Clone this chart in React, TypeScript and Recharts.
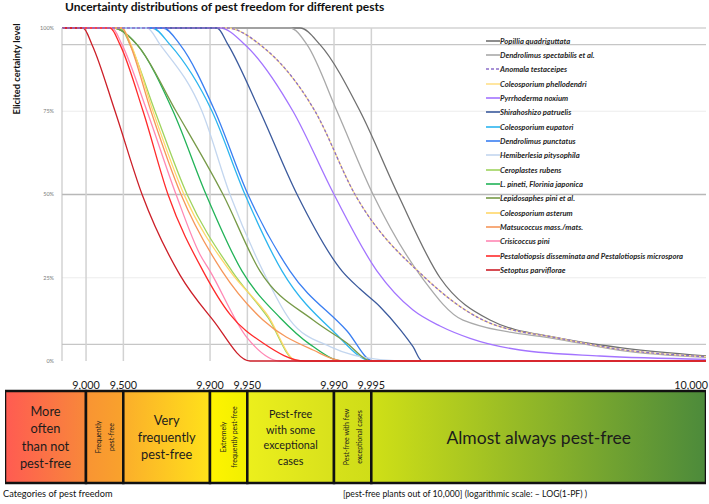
import React from 'react';
import { ComposedChart, BarChart, Bar, Line, XAxis, YAxis, ReferenceLine, Legend } from 'recharts';

const FONT = 'Lato, "Open Sans", sans-serif';

// x = -LOG10(1-PF), y = elicited certainty level (%)
const popillia = [[0.806, 100], [2.726, 100], [2.887, 95], [3.21, 75], [3.516, 50], [3.855, 25], [4.258, 12.3], [4.798, 7], [5.306, 4], [6, 1.5]];
const spectabilis = [[0.806, 100], [2.645, 100], [2.782, 95], [3.024, 75], [3.315, 50], [3.71, 25], [4.04, 12.3], [4.847, 6.3], [5.306, 3.2], [6, 1.1]];
const anomala = [[0.806, 100], [2.137, 100], [2.403, 95], [2.847, 75], [3.169, 50], [3.734, 25], [4.202, 12.3], [4.847, 6.6], [5.306, 3.5], [6, 1.3]];
const phellodendri = [[0.806, 100], [2.137, 100], [2.403, 95], [2.847, 75], [3.169, 50], [3.734, 25], [4.202, 12.3], [4.847, 6.6], [5.306, 3.5], [6, 1.3]];
const pyrrhoderma = [[0.806, 100], [2.081, 100], [2.282, 95], [2.669, 75], [3.0, 50], [3.347, 27], [3.637, 15.3], [3.855, 10.5], [4.097, 6.8], [4.5, 3.3], [5.145, 1.5], [6, 0.5]];
const shirahoshizo = [[0.806, 100], [2.056, 100], [2.145, 95], [2.403, 75], [2.702, 50], [3.065, 27], [3.21, 21.6], [3.371, 16.3], [3.532, 9.5], [3.637, 4.3], [3.71, 0], [6, 0]];
const eupatori = [[0.806, 100], [1.532, 100], [1.677, 95], [2.016, 75], [2.282, 50], [2.581, 27], [2.992, 9], [3.306, 0], [6, 0]];
const punctatus = [[0.806, 100], [1.621, 100], [1.758, 95], [2.04, 75], [2.306, 50], [2.645, 27], [3.105, 9], [3.315, 0], [6, 0]];
const hemiberlesia = [[0.806, 100], [1.492, 100], [1.597, 95], [1.935, 75], [2.161, 50], [2.427, 27], [2.645, 12.3], [2.968, 4.3], [3.371, 0.4], [3.6, 0], [6, 0]];
const ceroplastes = [[0.806, 100], [1.274, 100], [1.355, 95], [1.556, 75], [1.815, 50], [2.177, 27], [2.468, 13], [2.694, 0], [6, 0]];
const pineti = [[0.806, 100], [1.218, 100], [1.411, 95], [1.702, 75], [1.968, 50], [2.258, 27], [2.565, 13], [2.806, 5], [3.073, 0], [6, 0]];
const lepidosaphes = [[0.806, 100], [1.218, 100], [1.411, 95], [1.726, 75], [2.105, 50], [2.403, 27], [2.831, 12.3], [3.089, 5.8], [3.306, 0], [6, 0]];
const asterum = [[0.806, 100], [1.29, 100], [1.363, 95], [1.54, 75], [1.79, 50], [2.161, 27], [2.46, 14], [2.702, 0], [6, 0]];
const matsucoccus = [[0.806, 100], [1.29, 100], [1.355, 95], [1.524, 75], [1.766, 50], [2.097, 27], [2.427, 12.3], [2.831, 3.3], [3.073, 0], [6, 0]];
const crisicoccus = [[0.806, 100], [1.21, 100], [1.29, 95], [1.492, 75], [1.726, 50], [1.919, 32], [2.0, 27], [2.298, 7], [2.565, 0], [6, 0]];
const pestalotiopsis = [[0.806, 100], [1.194, 100], [1.274, 95], [1.46, 75], [1.661, 50], [1.944, 27], [2.161, 14], [2.427, 5.4], [2.766, 0], [6, 0]];
const setoptus = [[0.806, 100], [0.976, 100], [1.048, 95], [1.234, 75], [1.452, 50], [1.758, 25.8], [2.024, 12.3], [2.323, 0], [6, 0]];

const seriesNames = [
  'Popillia quadriguttata',
  'Dendrolimus spectabilis et al.',
  'Anomala testaceipes',
  'Coleosporium phellodendri',
  'Pyrrhoderma noxium',
  'Shirahoshizo patruelis',
  'Coleosporium eupatori',
  'Dendrolimus punctatus',
  'Hemiberlesia pitysophila',
  'Ceroplastes rubens',
  'L. pineti, Florinia japonica',
  'Lepidosaphes pini et al.',
  'Coleosporium asterum',
  'Matsucoccus mass./mats.',
  'Crisicoccus pini',
  'Pestalotiopsis disseminata and Pestalotiopsis microspora',
  'Setoptus parviflorae',
];
const seriesPoints = [
  popillia, spectabilis, anomala, phellodendri, pyrrhoderma, shirahoshizo, eupatori, punctatus,
  hemiberlesia, ceroplastes, pineti, lepidosaphes, asterum, matsucoccus, crisicoccus, pestalotiopsis, setoptus,
];
const seriesColors = [
  '#707070', '#a9a9a9', '#8c6fc9', '#ffe08a', '#a374ff', '#3b5a9d', '#2cb5ef', '#3a7ff2',
  '#c3d6ef', '#9fd45e', '#22b358', '#779a48', '#ffd86a', '#f6975a', '#ff88b4', '#ff2a2a', '#cc1f28',
];
const dashedSeries = 'Anomala testaceipes';

// pest-free plants out of 10,000
const plantTicks = [9000, 9500, 9900, 9950, 9990, 9995];
const yTicks = [0, 25, 50, 75, 100];
const hGrid = [100, 95, 75, 50, 25, 5];
const hGridColors = ['#bdbdbd', '#c6c6c6', '#ececec', '#b8b8b8', '#ececec', '#c6c6c6'];

const categoryLines = [
  ['More', 'often', 'than not', 'pest-free'],
  ['Frequently', 'pest-free'],
  ['Very', 'frequently', 'pest-free'],
  ['Extremely', 'frequently pest-free'],
  ['Pest-free', 'with some', 'exceptional', 'cases'],
  ['Pest-free with few', 'exceptional cases'],
  ['Almost always pest-free'],
];
const categoryStyle = [
  { size: 12.8, lh: 17.6, rotate: false, from: '#ff5b52', to: '#f8883a' },
  { size: 7, lh: 12.5, rotate: true, from: '#f99433', to: '#f9a22c' },
  { size: 12.8, lh: 17, rotate: false, from: '#fbae2b', to: '#ffe11a' },
  { size: 7, lh: 11.5, rotate: true, from: '#fff400', to: '#f1ef00' },
  { size: 10.8, lh: 15.6, rotate: false, from: '#ecef1c', to: '#d8e11c' },
  { size: 7, lh: 13, rotate: true, from: '#d6e11a', to: '#cfdd18' },
  { size: 17.5, lh: 18, rotate: false, from: '#d0e016', to: '#4c8a3b' },
];

const toLog = (v: number) => -Math.log10(1 - v / 10000);
const X_MIN = 0.806;
const X_MAX = 6;
const STRIP_MIN = 0.347;
const tickValues = [...plantTicks.map(toLog), 5.88];
const tickLabels = [...plantTicks.map((v) => v.toLocaleString('en-US')), '10,000'];
const categoryBounds = [STRIP_MIN, ...plantTicks.map(toLog), X_MAX];

const seriesData = seriesPoints.map((pts) => pts.map(([x, y]) => ({ x, y })));
const renderOrder = [
  ...seriesNames.map((_, i) => i).filter((i) => seriesNames[i] !== dashedSeries),
  seriesNames.indexOf(dashedSeries),
];

// one stacked row: width of every category on the log scale
const stripRow = [
  categoryLines.reduce(
    (row: any, _l, i) => ({ ...row, [`c${i}`]: categoryBounds[i + 1] - categoryBounds[i] }),
    { name: 'categories' },
  ),
];

const LegendBox = () => (
  <div style={{ fontFamily: FONT, fontSize: 7.7, fontStyle: 'italic', fontWeight: 700, color: '#262626' }}>
    {seriesNames.map((n, i) => (
      <div key={n} style={{ height: 14.35, display: 'flex', alignItems: 'center', whiteSpace: 'nowrap' }}>
        <svg width={14} height={4} style={{ display: 'block' }}>
          <line
            x1={0}
            y1={2}
            x2={14}
            y2={2}
            stroke={seriesColors[i]}
            strokeWidth={1.6}
            strokeDasharray={n === dashedSeries ? '3 2' : undefined}
          />
        </svg>
        <span>{n}</span>
      </div>
    ))}
  </div>
);

const BoxText = (props: any) => {
  const { x, y, width, height, idx } = props;
  const st = categoryStyle[idx];
  const lines = categoryLines[idx];
  const cx = x + width / 2;
  const cy = y + height / 2;
  const first = -((lines.length - 1) * st.lh) / 2;
  return (
    <text
      x={cx}
      y={cy}
      textAnchor="middle"
      fontSize={st.size}
      fontFamily={FONT}
      fill="#1c1c1c"
      transform={st.rotate ? `rotate(-90 ${cx} ${cy})` : undefined}
    >
      {lines.map((l, i) => (
        <tspan key={i} x={cx} y={cy + first + i * st.lh} dominantBaseline="central">
          {l}
        </tspan>
      ))}
    </text>
  );
};

export default function App() {
  return (
    <div style={{ position: 'absolute', left: 0, top: 0, width: 709, height: 504, background: '#fff', fontFamily: FONT }}>
      <div style={{ position: 'absolute', left: 65, top: 0, fontSize: 12, lineHeight: '13px', fontWeight: 700, color: '#111', whiteSpace: 'nowrap' }}>
        Uncertainty distributions of pest freedom for different pests
      </div>
      <div
        style={{
          position: 'absolute',
          left: 16,
          top: 69,
          transform: 'translate(-50%, -50%) rotate(-90deg)',
          fontSize: 9.3,
          fontWeight: 700,
          color: '#111',
          whiteSpace: 'nowrap',
        }}
      >
        Elicited certainty level
      </div>

      <div style={{ position: 'absolute', left: 0, top: 0 }}>
        <ComposedChart width={709} height={392} margin={{ top: 28, right: 3, bottom: 1, left: 22 }}>
          <XAxis
            type="number"
            dataKey="x"
            domain={[X_MIN, X_MAX]}
            allowDataOverflow
            ticks={tickValues}
            interval={0}
            tickFormatter={(_v: number, i: number) => tickLabels[i]}
            tickLine={false}
            axisLine={false}
            tickMargin={14}
            height={30}
            tick={{ fontSize: 10.8, fill: '#1a1a1a', fontFamily: FONT }}
          />
          <YAxis
            type="number"
            domain={[0, 100]}
            ticks={yTicks}
            width={40}
            tickLine={false}
            axisLine={{ stroke: '#bdbdbd' }}
            tickFormatter={(v: number) => `${v}%`}
            tick={{ fontSize: 5.5, fill: '#7a7a7a', fontFamily: FONT }}
          />
          {hGrid.map((v, i) => (
            <ReferenceLine key={`h${v}`} y={v} stroke={hGridColors[i]} strokeWidth={v === 50 ? 1.6 : 1.2} />
          ))}
          {plantTicks.map((v) => (
            <ReferenceLine key={`v${v}`} x={toLog(v)} stroke="#d2d2d2" strokeWidth={1.5} />
          ))}
          {renderOrder.map((i) => (
            <Line
              key={seriesNames[i]}
              name={seriesNames[i]}
              data={seriesData[i]}
              dataKey="y"
              type="monotone"
              stroke={seriesColors[i]}
              strokeWidth={1.3}
              strokeDasharray={seriesNames[i] === dashedSeries ? '3 2' : undefined}
              dot={false}
              activeDot={false}
              isAnimationActive={false}
            />
          ))}
          <Legend
            layout="vertical"
            align="center"
            verticalAlign="middle"
            wrapperStyle={{ position: 'absolute', left: 486, top: 33.5, width: 222, height: 'auto' }}
            content={() => <LegendBox />}
          />
        </ComposedChart>
      </div>

      <div style={{ position: 'absolute', left: 0, top: 385 }}>
        <BarChart
          layout="vertical"
          width={709}
          height={119}
          data={stripRow}
          margin={{ top: 6, right: 3, bottom: 21, left: 5 }}
          barCategoryGap={0}
        >
          <defs>
            {categoryStyle.map((s, i) => (
              <linearGradient key={i} id={`cat${i}`} x1="0" y1="0" x2="1" y2="0">
                <stop offset="0%" stopColor={s.from} />
                <stop offset="100%" stopColor={s.to} />
              </linearGradient>
            ))}
          </defs>
          <XAxis type="number" domain={[0, X_MAX - STRIP_MIN]} allowDataOverflow hide />
          <YAxis type="category" dataKey="name" hide />
          {categoryLines.map((_, i) => (
            <Bar
              key={i}
              dataKey={`c${i}`}
              stackId="strip"
              fill={`url(#cat${i})`}
              stroke="#111"
              strokeWidth={2.5}
              isAnimationActive={false}
              label={(p: any) => <BoxText key={`t${i}`} x={p.x} y={p.y} width={p.width} height={p.height} idx={i} />}
            />
          ))}
        </BarChart>
      </div>

      <div style={{ position: 'absolute', left: 3, top: 488, fontSize: 9.2, lineHeight: '12px', color: '#111', whiteSpace: 'nowrap' }}>
        Categories of pest freedom
      </div>
      <div style={{ position: 'absolute', left: 343, top: 488, fontSize: 8.7, lineHeight: '12px', color: '#111', whiteSpace: 'nowrap' }}>
        [pest-free plants out of 10,000] (logarithmic scale: – LOG(1-PF) )
      </div>
    </div>
  );
}
